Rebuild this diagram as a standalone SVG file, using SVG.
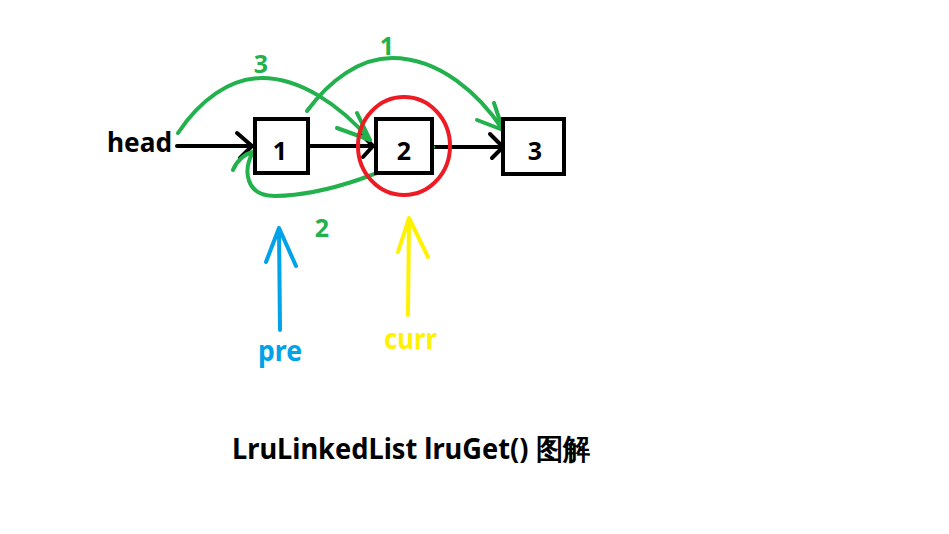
<svg xmlns="http://www.w3.org/2000/svg" width="949" height="534" viewBox="0 0 949 534">
<style>
.box{fill:#fff;stroke:#000;stroke-width:4}
.blk{fill:none;stroke:#000;stroke-width:4;stroke-linecap:round;stroke-linejoin:round}
.grn{fill:none;stroke:#22b14c;stroke-width:4;stroke-linecap:round;stroke-linejoin:round}
.t{font-family:"Noto Sans","Liberation Sans",sans-serif;font-weight:bold}
</style>
<rect width="949" height="534" fill="#fff"/>
<g id="connectors">
<path class="blk" d="M177,146 L252,146 M237,133 L252,146 L240,158"/>
<path class="blk" d="M300,146 L372,146 M362,135 L373,146 L363,157"/>
<path class="blk" d="M428,147 L505,147 M490,134 L503,147 L492,158"/>
<path class="grn" d="M178,133 C200,100 230,78 262,78 C300,78 340,105 370,140 M357,113 L370,140 L337,128"/>
<path class="grn" d="M307,111 C330,80 360,58 392,58 C440,58 480,95 503,130 M494,103 L503,130 L477,120"/>
<path class="grn" d="M433,147 C390,170 330,195 275,196 C245,196 243,170 253,152 M233,170 C236,162 244,154 253,152 C262,156 268,164 268,172"/>
<ellipse cx="404" cy="146" rx="46" ry="49" fill="none" stroke="#ed1c24" stroke-width="4"/>
<path d="M280,330 L279,228 M266,262 L279,228 L296,266" fill="none" stroke="#00a2e8" stroke-width="4" stroke-linecap="round" stroke-linejoin="round"/>
<path d="M408,315 L409,218 M398,252 L409,218 L428,257" fill="none" stroke="#fff200" stroke-width="4" stroke-linecap="round" stroke-linejoin="round"/>
</g>
<g id="node1"><rect class="box" x="255" y="119" width="53" height="54"/><text class="t" x="280" y="160" font-size="25" text-anchor="middle">1</text></g>
<g id="node2"><rect class="box" x="376" y="119" width="56" height="54"/><text class="t" x="404" y="160" font-size="25" text-anchor="middle">2</text></g>
<g id="node3"><rect class="box" x="503" y="119" width="61" height="55"/><text class="t" x="535" y="160" font-size="25" text-anchor="middle">3</text></g>
<g id="labels">
<text class="t" x="107" y="152" font-size="27" textLength="65" lengthAdjust="spacingAndGlyphs">head</text>
<text class="t" x="261" y="73" font-size="25" fill="#22b14c" text-anchor="middle">3</text>
<text class="t" x="387" y="55" font-size="25" fill="#22b14c" text-anchor="middle">1</text>
<text class="t" x="322" y="237" font-size="25" fill="#22b14c" text-anchor="middle">2</text>
<text class="t" x="258" y="361" font-size="29" fill="#00a2e8" textLength="44" lengthAdjust="spacingAndGlyphs">pre</text>
<text class="t" x="384" y="349" font-size="29" fill="#fff200" textLength="53" lengthAdjust="spacingAndGlyphs">curr</text>
<text class="t" x="232" y="459" font-size="29" font-family="'Noto Sans','Noto Sans CJK SC',sans-serif" textLength="358" lengthAdjust="spacingAndGlyphs">LruLinkedList lruGet() 图解</text>
</g>
</svg>
